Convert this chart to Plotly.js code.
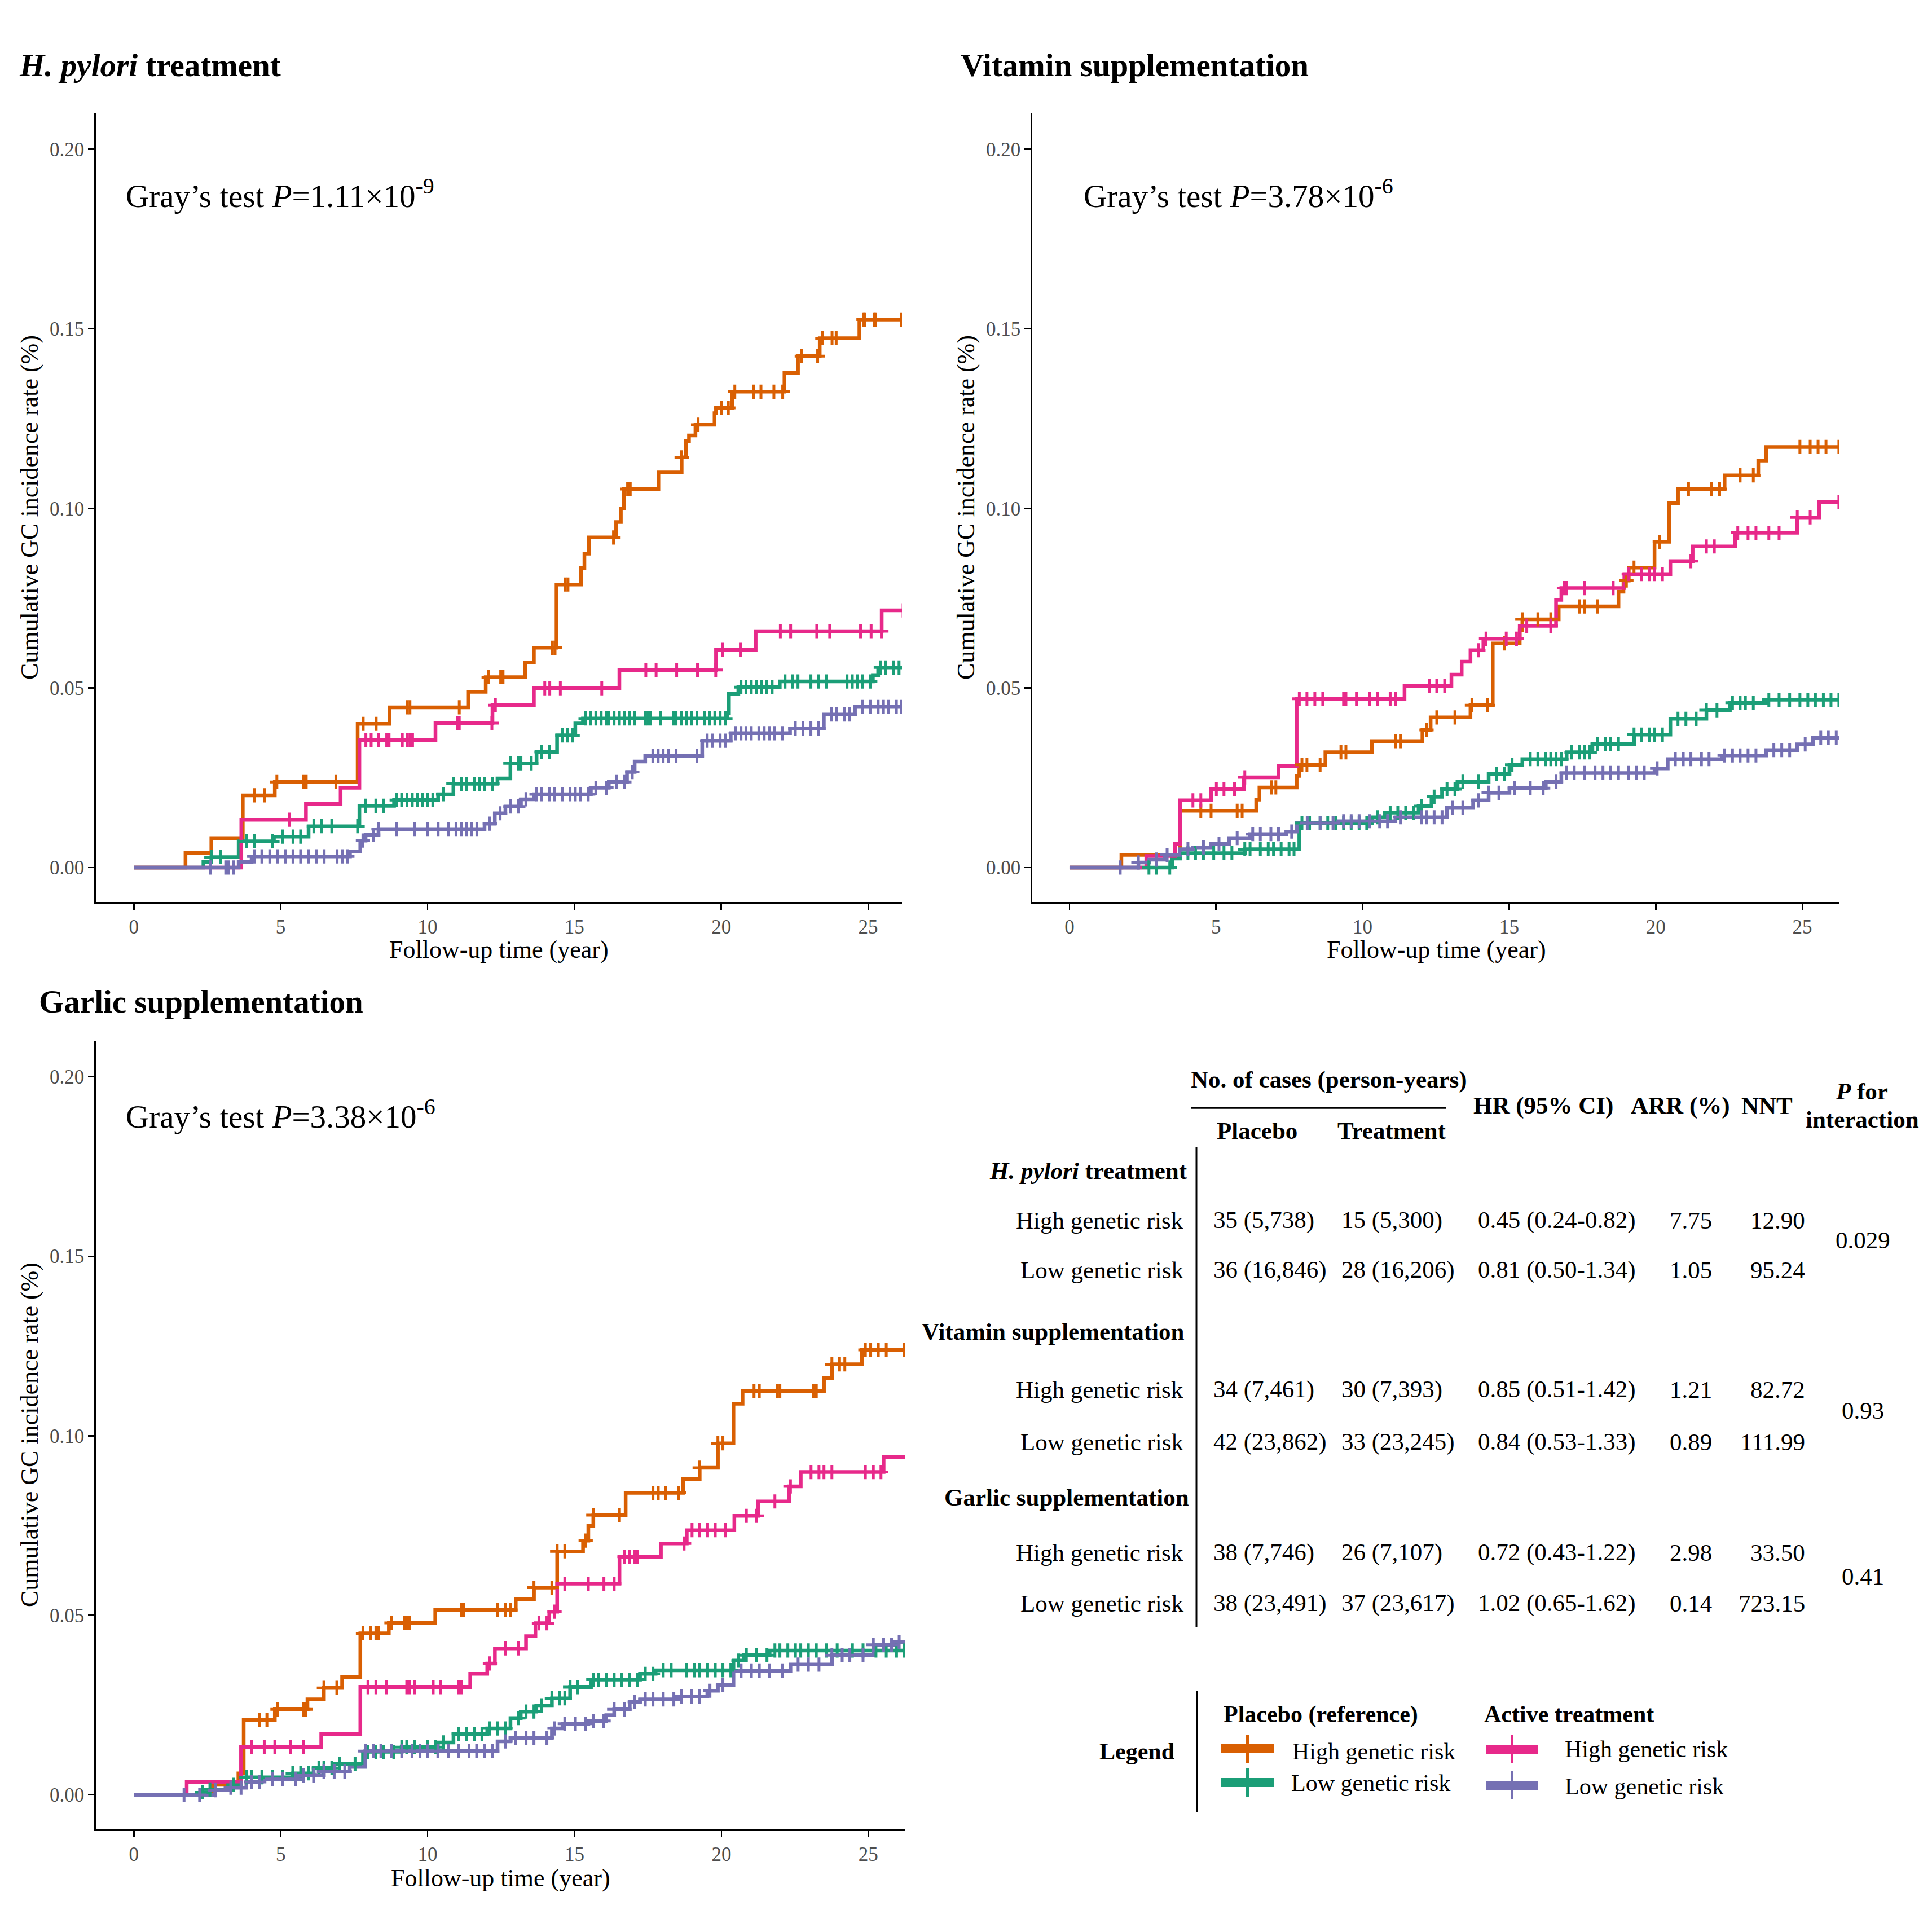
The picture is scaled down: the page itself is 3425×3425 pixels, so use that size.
<!DOCTYPE html>
<html><head><meta charset="utf-8">
<script src="https://cdn.plot.ly/plotly-3.0.1.min.js"></script>
<style>html,body{margin:0;padding:0;background:#fff}</style>
</head><body><div id="chart" style="width:3425px;height:3425px"></div>
<script>
// ---------------- DATA ----------------
const xTicks = [0, 5, 10, 15, 20, 25];
const yTicks = [0, 0.05, 0.10, 0.15, 0.20];
const yTickText = ['0.00', '0.05', '0.10', '0.15', '0.20'];

const panelTitles = ['<b><i>H. pylori</i> treatment</b>', '<b>Vitamin supplementation</b>', '<b>Garlic supplementation</b>'];
const grayTests = ['Gray\u2019s test <i>P</i>=1.11\u00d710<sup>-9</sup>', 'Gray\u2019s test <i>P</i>=3.78\u00d710<sup>-6</sup>', 'Gray\u2019s test <i>P</i>=3.38\u00d710<sup>-6</sup>'];
const seriesNames = ['Placebo, high genetic risk', 'Placebo, low genetic risk', 'Active, high genetic risk', 'Active, low genetic risk'];

// H. pylori treatment
const hpPlaHighT = [0, 1.76, 2.64, 3.71, 4.80, 7.62, 8.70, 11.38, 11.98, 13.32, 13.62, 14.39, 15.22, 15.34, 15.49, 16.42, 16.58, 16.68, 17.86, 18.65, 18.80, 18.90, 19.12, 19.77, 19.82, 20.37, 22.15, 22.61, 23.35, 24.70, 26.2];
const hpPlaHighV = [0, 0.0041, 0.0082, 0.0201, 0.0238, 0.0400, 0.0446, 0.0489, 0.0530, 0.0571, 0.0612, 0.0788, 0.0834, 0.0874, 0.0919, 0.0962, 0.1000, 0.1054, 0.1100, 0.1142, 0.1187, 0.1203, 0.1233, 0.1265, 0.1280, 0.1325, 0.1378, 0.1424, 0.1474, 0.1526, 0.1526];
const hpPlaHighC = [4.11, 4.46, 4.87, 5.78, 5.87, 6.88, 7.81, 8.25, 9.31, 9.40, 11.08, 12.08, 12.49, 12.57, 14.25, 14.34, 14.69, 14.78, 16.33, 16.81, 16.90, 18.65, 19.21, 20.00, 20.24, 20.46, 21.10, 21.35, 21.79, 22.09, 22.74, 23.28, 23.44, 23.77, 23.91, 24.84, 24.88, 25.21, 25.25, 26.14];
const hpPlaLowT = [0, 2.37, 2.64, 3.57, 4.77, 5.95, 7.68, 8.86, 10.36, 10.88, 12.38, 12.82, 13.71, 14.41, 15.03, 15.29, 20.20, 20.26, 20.58, 21.99, 25.16, 25.34, 26.2];
const hpPlaLowV = [0, 0.0015, 0.0029, 0.0073, 0.0086, 0.0115, 0.0172, 0.0188, 0.0204, 0.0233, 0.0248, 0.0290, 0.0322, 0.0368, 0.0401, 0.0415, 0.0430, 0.0484, 0.0502, 0.0518, 0.0536, 0.0557, 0.0557];
const hpPlaLowC = [2.64, 2.95, 3.83, 4.10, 4.72, 5.07, 5.42, 5.68, 6.13, 6.39, 6.74, 7.62, 7.89, 8.24, 8.51, 8.95, 9.12, 9.30, 9.48, 9.65, 9.83, 10.0, 10.18, 10.53, 10.88, 11.15, 11.33, 11.59, 11.77, 11.94, 12.21, 12.82, 13.09, 13.18, 13.53, 13.88, 14.14, 14.59, 14.76, 14.94, 15.38, 15.56, 15.73, 15.91, 16.09, 16.17, 16.35, 16.53, 16.70, 16.88, 17.05, 17.41, 17.50, 17.58, 17.94, 18.38, 18.46, 18.64, 18.82, 18.99, 19.17, 19.43, 19.61, 19.78, 19.96, 20.14, 20.67, 20.84, 21.02, 21.20, 21.37, 21.55, 21.73, 22.17, 22.43, 22.61, 23.05, 23.31, 23.58, 24.28, 24.46, 24.63, 24.81, 25.07, 25.43, 25.60, 25.87, 26.05];
const hpActHighT = [0, 3.66, 5.86, 7.04, 7.68, 10.27, 12.21, 13.62, 16.53, 19.82, 21.17, 25.46, 26.2];
const hpActHighV = [0, 0.0133, 0.0177, 0.0222, 0.0355, 0.0402, 0.0452, 0.0499, 0.0550, 0.0606, 0.0658, 0.0716, 0.0716];
const hpActHighC = [5.29, 7.90, 8.08, 8.34, 8.61, 8.69, 9.14, 9.31, 9.40, 9.49, 11.02, 11.08, 12.19, 12.31, 13.99, 14.16, 14.52, 15.93, 17.43, 17.78, 18.48, 19.19, 19.81, 20.04, 20.65, 22.01, 22.36, 23.25, 23.69, 24.74, 25.10, 25.45, 26.19];
const hpActLowT = [0, 3.57, 4.01, 7.36, 7.71, 7.89, 8.33, 11.94, 12.29, 12.65, 13.18, 13.62, 15.56, 16.17, 16.79, 17.05, 17.41, 19.35, 20.32, 22.34, 23.49, 24.55, 26.2];
const hpActLowV = [0, 0.0015, 0.0031, 0.0044, 0.0075, 0.0091, 0.0107, 0.0122, 0.0151, 0.0170, 0.0190, 0.0204, 0.0222, 0.0238, 0.0266, 0.0295, 0.0311, 0.0353, 0.0374, 0.0387, 0.0426, 0.0447, 0.0447];
const hpActLowC = [2.60, 3.13, 3.22, 3.39, 4.10, 4.36, 4.63, 4.89, 5.16, 5.42, 5.68, 5.95, 6.21, 6.48, 6.92, 7.10, 7.27, 7.80, 8.15, 8.33, 8.95, 9.56, 10.0, 10.36, 10.71, 10.97, 11.15, 11.33, 11.50, 11.68, 12.12, 12.47, 12.82, 13.09, 13.35, 13.71, 13.88, 14.15, 14.32, 14.59, 14.85, 15.03, 15.21, 15.47, 15.73, 16.09, 16.44, 16.70, 16.97, 17.67, 17.85, 18.02, 18.20, 18.46, 19.17, 19.52, 19.70, 19.96, 20.14, 20.49, 20.67, 20.84, 21.02, 21.28, 21.46, 21.64, 21.81, 22.08, 22.52, 22.78, 23.05, 23.31, 23.75, 23.93, 24.19, 24.37, 24.81, 25.07, 25.34, 25.52, 25.69, 25.96, 26.13];

// Vitamin supplementation
const vitPlaHighT = [0, 1.77, 3.77, 6.37, 6.48, 7.75, 7.84, 8.73, 10.32, 12.04, 12.32, 13.68, 14.44, 15.36, 15.45, 16.69, 18.73, 18.90, 19.08, 19.96, 20.46, 20.76, 22.35, 23.50, 23.77, 26.25];
const vitPlaHighV = [0, 0.0035, 0.0158, 0.0189, 0.0223, 0.0255, 0.0286, 0.0321, 0.0352, 0.0383, 0.0418, 0.0452, 0.0624, 0.0660, 0.0691, 0.0727, 0.0768, 0.0799, 0.0835, 0.0907, 0.1015, 0.1054, 0.1092, 0.1133, 0.1171, 0.1171];
const vitPlaHighC = [4.48, 4.83, 5.72, 5.89, 6.90, 7.04, 7.93, 8.10, 8.55, 9.26, 9.43, 11.12, 11.29, 12.18, 12.53, 13.15, 13.73, 14.27, 14.83, 15.45, 15.98, 16.42, 17.40, 17.58, 18.02, 19.00, 19.26, 20.14, 21.12, 21.91, 22.18, 22.88, 23.33, 24.92, 25.27, 25.54, 25.81, 26.25];
const vitPlaLowT = [0, 3.50, 3.77, 5.98, 7.84, 10.32, 10.76, 11.91, 12.35, 12.71, 13.24, 14.30, 15.01, 15.45, 16.96, 17.84, 19.26, 20.50, 21.73, 22.53, 23.77, 26.25];
const vitPlaLowV = [0, 0.0025, 0.0040, 0.0051, 0.0124, 0.0140, 0.0153, 0.0171, 0.0197, 0.0218, 0.0239, 0.0260, 0.0286, 0.0302, 0.0321, 0.0344, 0.0370, 0.0414, 0.0438, 0.0459, 0.0467, 0.0467];
const vitPlaLowC = [2.71, 2.97, 3.42, 4.04, 4.30, 4.57, 4.92, 5.27, 5.54, 5.98, 6.16, 6.51, 6.78, 6.96, 7.22, 7.49, 7.66, 7.93, 8.19, 8.55, 8.81, 9.08, 9.35, 9.61, 9.88, 10.14, 10.50, 10.94, 11.20, 11.47, 11.73, 12.00, 12.44, 12.88, 13.15, 13.42, 13.95, 14.57, 14.83, 15.10, 15.72, 15.98, 16.25, 16.42, 16.60, 16.78, 17.13, 17.40, 17.58, 17.75, 18.02, 18.28, 18.46, 18.73, 19.26, 19.52, 19.79, 19.96, 20.23, 20.76, 21.03, 21.38, 21.73, 22.09, 22.62, 22.88, 23.06, 23.33, 23.86, 24.21, 24.57, 24.92, 25.19, 25.45, 25.72, 25.98, 26.25];
const vitActHighT = [0, 2.62, 3.60, 3.77, 4.83, 5.95, 7.13, 7.75, 11.43, 13.03, 13.38, 13.68, 14.12, 15.36, 16.60, 16.78, 18.93, 20.50, 21.26, 22.71, 24.83, 25.58, 26.25];
const vitActHighV = [0, 0.0032, 0.0066, 0.0187, 0.0218, 0.0251, 0.0282, 0.0470, 0.0506, 0.0537, 0.0573, 0.0605, 0.0637, 0.0673, 0.0745, 0.0778, 0.0817, 0.0853, 0.0894, 0.0932, 0.0975, 0.1018, 0.1018];
const vitActHighC = [4.21, 4.48, 5.01, 5.27, 5.63, 5.98, 7.84, 8.10, 8.37, 8.64, 9.35, 9.43, 9.79, 10.23, 10.50, 10.94, 11.12, 12.27, 12.53, 12.80, 13.95, 14.21, 14.90, 15.25, 15.60, 16.42, 16.87, 16.96, 17.58, 18.55, 19.08, 19.52, 19.79, 19.96, 20.23, 21.20, 21.73, 22.00, 22.80, 23.15, 23.42, 23.86, 24.21, 24.83, 25.27, 26.25];
const vitActLowT = [0, 2.35, 2.71, 3.24, 3.77, 4.21, 4.83, 5.45, 6.16, 7.40, 7.75, 9.17, 11.12, 12.88, 13.77, 14.30, 15.01, 16.25, 16.78, 19.96, 20.41, 22.27, 23.77, 24.83, 25.36, 26.25];
const vitActLowV = [0, 0.0014, 0.0022, 0.0035, 0.0051, 0.0056, 0.0066, 0.0082, 0.0093, 0.0100, 0.0124, 0.0129, 0.0140, 0.0166, 0.0187, 0.0208, 0.0221, 0.0239, 0.0263, 0.0276, 0.0302, 0.0312, 0.0327, 0.0343, 0.0361, 0.0361];
const vitActLowC = [1.73, 2.35, 2.97, 3.33, 4.04, 4.57, 5.10, 5.72, 6.25, 6.51, 6.87, 7.13, 7.58, 8.11, 8.55, 8.99, 9.35, 9.61, 9.88, 10.23, 10.58, 10.85, 11.29, 12.00, 12.18, 12.44, 12.71, 13.06, 13.42, 13.95, 14.30, 14.65, 15.19, 15.72, 16.16, 16.60, 16.96, 17.22, 17.58, 17.93, 18.20, 18.46, 18.73, 19.08, 19.35, 19.61, 20.05, 20.67, 20.94, 21.20, 21.56, 21.82, 22.35, 22.62, 22.88, 23.15, 23.42, 24.03, 24.30, 24.57, 25.10, 25.63, 25.89, 26.16];

// Garlic supplementation
const garPlaHighT = [0, 2.68, 3.56, 3.74, 4.80, 5.91, 6.47, 7.09, 7.71, 8.68, 10.26, 13.00, 13.62, 14.41, 15.29, 15.47, 15.64, 16.74, 18.70, 19.26, 19.88, 20.41, 20.72, 23.49, 23.76, 24.78, 26.25];
const garPlaHighV = [0, 0.0028, 0.0060, 0.0209, 0.0238, 0.0266, 0.0298, 0.0328, 0.0450, 0.0479, 0.0515, 0.0545, 0.0577, 0.0678, 0.0708, 0.0749, 0.0779, 0.0841, 0.0879, 0.0911, 0.0979, 0.1089, 0.1124, 0.1161, 0.1199, 0.1239, 0.1239];
const garPlaHighC = [4.27, 4.53, 4.89, 5.77, 5.85, 6.47, 6.91, 7.80, 8.06, 8.24, 8.32, 8.77, 9.21, 9.29, 9.38, 11.15, 11.23, 12.38, 12.65, 12.82, 13.62, 14.23, 14.41, 14.67, 15.38, 15.64, 16.53, 17.67, 17.85, 18.11, 18.55, 19.26, 19.88, 20.05, 21.11, 21.29, 21.90, 21.99, 23.14, 23.23, 23.76, 24.02, 24.20, 24.90, 25.08, 25.34, 25.61, 26.23];
const garPlaLowT = [0, 2.33, 2.59, 3.30, 3.65, 5.41, 6.12, 6.83, 7.80, 9.12, 10.35, 10.88, 12.03, 12.82, 13.17, 13.70, 14.23, 14.85, 15.56, 17.23, 17.76, 20.41, 20.76, 21.64, 26.25];
const garPlaLowV = [0, 0.0007, 0.0015, 0.0028, 0.0049, 0.0060, 0.0075, 0.0086, 0.0120, 0.0133, 0.0146, 0.0170, 0.0185, 0.0214, 0.0232, 0.0248, 0.0269, 0.0300, 0.0321, 0.0337, 0.0347, 0.0374, 0.0389, 0.0402, 0.0402];
const garPlaLowC = [2.33, 2.59, 3.39, 3.83, 4.00, 4.36, 4.71, 5.06, 5.41, 5.68, 5.94, 6.30, 6.47, 6.74, 7.00, 7.53, 7.97, 8.24, 8.50, 8.85, 9.12, 9.29, 9.56, 10.00, 10.26, 10.53, 11.06, 11.32, 11.59, 11.85, 12.12, 12.38, 12.65, 13.09, 13.35, 13.62, 13.88, 14.23, 14.50, 14.67, 14.85, 15.11, 15.64, 15.82, 16.08, 16.35, 16.61, 16.88, 17.14, 17.41, 17.67, 18.02, 18.29, 18.82, 19.08, 19.26, 19.53, 19.79, 20.05, 20.32, 20.58, 20.85, 21.20, 21.55, 21.82, 21.99, 22.26, 22.52, 22.70, 22.96, 23.23, 23.58, 23.94, 24.46, 24.82, 25.26, 25.61, 25.96, 26.22];
const garActHighT = [0, 1.80, 3.65, 6.38, 7.71, 11.45, 12.03, 12.29, 13.35, 13.67, 14.14, 14.41, 16.53, 17.94, 18.82, 20.44, 21.25, 22.31, 22.70, 25.52, 26.25];
const garActHighV = [0, 0.0036, 0.0133, 0.0170, 0.0300, 0.0337, 0.0366, 0.0408, 0.0442, 0.0478, 0.0510, 0.0588, 0.0663, 0.0700, 0.0737, 0.0777, 0.0817, 0.0859, 0.0899, 0.0941, 0.0941];
const garActHighC = [4.00, 4.44, 4.80, 5.33, 5.77, 7.97, 8.24, 8.59, 9.29, 9.38, 9.56, 10.19, 10.45, 11.06, 11.15, 12.12, 12.65, 13.09, 13.79, 14.06, 14.32, 14.67, 15.47, 16.00, 16.35, 16.70, 16.88, 17.05, 17.14, 18.73, 19.00, 19.26, 19.53, 19.79, 20.14, 20.85, 21.20, 21.82, 22.35, 23.05, 23.32, 23.49, 23.76, 24.90, 25.17, 25.43];
const garActLowT = [0, 2.77, 3.30, 3.83, 4.36, 5.77, 6.47, 7.35, 7.88, 12.38, 12.82, 14.23, 14.59, 15.47, 16.08, 16.35, 16.88, 17.23, 18.47, 19.52, 19.88, 20.41, 22.35, 23.76, 25.17, 25.87, 26.25];
const garActLowV = [0, 0.0013, 0.0020, 0.0036, 0.0044, 0.0054, 0.0065, 0.0078, 0.0122, 0.0149, 0.0159, 0.0185, 0.0198, 0.0206, 0.0222, 0.0238, 0.0259, 0.0266, 0.0274, 0.0290, 0.0306, 0.0345, 0.0363, 0.0389, 0.0418, 0.0426, 0.0426];
const garActLowC = [1.71, 2.24, 2.77, 3.30, 3.65, 4.00, 4.27, 4.71, 5.06, 5.50, 5.77, 6.12, 6.47, 6.82, 7.18, 7.88, 8.15, 8.41, 8.77, 9.12, 9.47, 9.74, 10.00, 10.35, 10.71, 11.06, 11.41, 11.67, 11.94, 12.20, 12.65, 13.00, 13.35, 13.62, 14.06, 14.32, 14.67, 15.03, 15.38, 15.64, 15.99, 16.35, 16.70, 17.05, 17.41, 17.67, 18.02, 18.38, 18.64, 18.99, 19.26, 19.61, 20.05, 20.67, 21.02, 21.29, 21.64, 22.08, 22.61, 22.96, 23.32, 23.76, 24.11, 24.37, 24.82, 25.17, 25.52, 25.79, 26.05];

// Table
const tableGroups = ['<b><i>H. pylori</i> treatment</b>', '<b>Vitamin supplementation</b>', '<b>Garlic supplementation</b>'];
const riskLabels = ['High genetic risk', 'Low genetic risk'];
const placeboCases = [['35 (5,738)', '36 (16,846)'], ['34 (7,461)', '42 (23,862)'], ['38 (7,746)', '38 (23,491)']];
const treatmentCases = [['15 (5,300)', '28 (16,206)'], ['30 (7,393)', '33 (23,245)'], ['26 (7,107)', '37 (23,617)']];
const hrCI = [['0.45 (0.24-0.82)', '0.81 (0.50-1.34)'], ['0.85 (0.51-1.42)', '0.84 (0.53-1.33)'], ['0.72 (0.43-1.22)', '1.02 (0.65-1.62)']];
const arrPct = [['7.75', '1.05'], ['1.21', '0.89'], ['2.98', '0.14']];
const nnt = [['12.90', '95.24'], ['82.72', '111.99'], ['33.50', '723.15']];
const pInteraction = ['0.029', '0.93', '0.41'];
const legendGroups = ['<b>Placebo (reference)</b>', '<b>Active treatment</b>'];

// ---------------- BUILD ----------------
const W = 3425;
const FONT = 'Liberation Serif, Times New Roman, serif';
const COL = ['#D95F02', '#1B9E77', '#E7298A', '#7570B3'];
const px = X => X / W;
const py = Y => 1 - Y / W;

function stepAt(T, V, t) {
  let v = V[0];
  for (let i = 0; i < T.length; i++) { if (T[i] <= t) v = V[i]; else break; }
  return v;
}

const panels = [
  { x: 'x', y: 'y', data: [[hpPlaHighT, hpPlaHighV, hpPlaHighC], [hpPlaLowT, hpPlaLowV, hpPlaLowC], [hpActHighT, hpActHighV, hpActHighC], [hpActLowT, hpActLowV, hpActLowC]] },
  { x: 'x2', y: 'y2', data: [[vitPlaHighT, vitPlaHighV, vitPlaHighC], [vitPlaLowT, vitPlaLowV, vitPlaLowC], [vitActHighT, vitActHighV, vitActHighC], [vitActLowT, vitActLowV, vitActLowC]] },
  { x: 'x3', y: 'y3', data: [[garPlaHighT, garPlaHighV, garPlaHighC], [garPlaLowT, garPlaLowV, garPlaLowC], [garActHighT, garActHighV, garActHighC], [garActLowT, garActLowV, garActLowC]] }
];

const traces = [];
panels.forEach(p => {
  p.data.forEach((d, i) => {
    traces.push({ x: d[0], y: d[1], xaxis: p.x, yaxis: p.y, type: 'scatter', mode: 'lines', name: seriesNames[i],
      line: { shape: 'hv', width: 6.5, color: COL[i] }, showlegend: false, hoverinfo: 'skip' });
  });
  p.data.forEach((d, i) => {
    traces.push({ x: d[2], y: d[2].map(t => stepAt(d[0], d[1], t)), xaxis: p.x, yaxis: p.y, type: 'scatter', mode: 'markers', name: seriesNames[i],
      marker: { symbol: 'cross-thin', size: 18, color: COL[i], line: { width: 5, color: COL[i] } }, showlegend: false, hoverinfo: 'skip' });
  });
});

function xax(dom, range, anchor) {
  return { domain: dom, range: range, anchor: anchor, tickmode: 'array', tickvals: xTicks, ticktext: xTicks.map(String),
    showline: true, linecolor: '#000', linewidth: 2.7, ticks: 'outside', ticklen: 11, tickwidth: 2.7, tickcolor: '#000',
    showgrid: false, zeroline: false, tickfont: { family: FONT, size: 35, color: '#4D4D4D' }, fixedrange: true };
}
function yax(dom, anchor) {
  return { domain: dom, range: [-0.0096, 0.21], anchor: anchor, tickmode: 'array', tickvals: yTicks, ticktext: yTickText,
    showline: true, linecolor: '#000', linewidth: 2.7, ticks: 'outside', ticklen: 11, tickwidth: 2.7, tickcolor: '#000',
    showgrid: false, zeroline: false, tickfont: { family: FONT, size: 35, color: '#4D4D4D' }, fixedrange: true };
}

const annotations = [];
function T(text, X, baseY, size, xanchor, extra) {
  const a = { text: text, x: px(X), y: py(baseY - 0.3 * size), xref: 'paper', yref: 'paper', xanchor: xanchor, yanchor: 'middle',
    showarrow: false, font: { family: FONT, size: size, color: '#000' } };
  return Object.assign(a, extra || {});
}

// panel titles & Gray's tests
const titlePos = [[32, 133], [1701, 133], [67, 1793]];
const grayPos = [[221, 360], [1919, 360], [221, 1992]];
for (let k = 0; k < 3; k++) {
  annotations.push(T(panelTitles[k], titlePos[k][0], titlePos[k][1], 57, 'left'));
  annotations.push(T(grayTests[k], grayPos[k][0], grayPos[k][1], 57, 'left'));
}
// axis titles
const xTitlePos = [[884, 1697], [2546, 1697], [887, 3343]];
const yTitlePos = [[52, 900], [1712, 900], [52, 2544]];
for (let k = 0; k < 3; k++) {
  annotations.push(T('Follow-up time (year)', xTitlePos[k][0], xTitlePos[k][1], 44, 'center'));
  annotations.push({ text: 'Cumulative GC incidence rate (%)', x: px(yTitlePos[k][0]), y: py(yTitlePos[k][1]), xref: 'paper', yref: 'paper',
    xanchor: 'center', yanchor: 'middle', textangle: -90, showarrow: false, font: { family: FONT, size: 44, color: '#000' } });
}

// table header
const TS = 43;
annotations.push(T('<b>No. of cases (person-years)</b>', 2356, 1927, TS, 'center'));
annotations.push(T('<b>Placebo</b>', 2228, 2017, TS, 'center'));
annotations.push(T('<b>Treatment</b>', 2467, 2017, TS, 'center'));
annotations.push(T('<b>HR (95% CI)</b>', 2736, 1973, TS, 'center'));
annotations.push(T('<b>ARR (%)</b>', 2979, 1973, TS, 'center'));
annotations.push(T('<b>NNT</b>', 3132, 1973, TS, 'center'));
annotations.push(T('<b><i>P</i> for</b>', 3300, 1947, TS, 'center'));
annotations.push(T('<b>interaction</b>', 3301, 1997, TS, 'center'));

const groupBase = [2088, 2373, 2667];
const rowBase = [[2176, 2264], [2476, 2569], [2765, 2855]];
const groupRight = [2107, 2102, 2110];
const pBase = [2211, 2513, 2807];
for (let g = 0; g < 3; g++) {
  annotations.push(T(tableGroups[g], groupRight[g], groupBase[g], TS, 'right'));
  for (let r = 0; r < 2; r++) {
    const b = rowBase[g][r];
    annotations.push(T(riskLabels[r], 2100, b, TS, 'right'));
    annotations.push(T(placeboCases[g][r], 2149, b, TS, 'left'));
    annotations.push(T(treatmentCases[g][r], 2376, b, TS, 'left'));
    annotations.push(T(hrCI[g][r], 2618, b, TS, 'left'));
    annotations.push(T(arrPct[g][r], 2997, b, TS, 'center'));
    annotations.push(T(nnt[g][r], 3202, b, TS, 'right'));
  }
  annotations.push(T(pInteraction[g], 3302, pBase[g], TS, 'center'));
}

// legend block
const LS = 42;
annotations.push(T('<b>Legend</b>', 2015, 3118, LS, 'center'));
annotations.push(T(legendGroups[0], 2167, 3052, LS, 'left'));
annotations.push(T(legendGroups[1], 2629, 3052, LS, 'left'));
annotations.push(T(riskLabels[0], 2289, 3118, LS, 'left'));
annotations.push(T(riskLabels[1], 2287, 3174, LS, 'left'));
annotations.push(T(riskLabels[0], 2772, 3114, LS, 'left'));
annotations.push(T(riskLabels[1], 2772, 3180, LS, 'left'));

const shapes = [];
function ln(x0, y0, x1, y1, w, c) {
  shapes.push({ type: 'line', xref: 'paper', yref: 'paper', x0: px(x0), y0: py(y0), x1: px(x1), y1: py(y1), line: { width: w, color: c } });
}
// table rules
ln(2112, 1964, 2564, 1964, 3.5, '#000');
ln(2121, 2034, 2121, 2885, 3, '#000');
ln(2122, 2998, 2122, 3213, 3, '#000');
// legend keys
const keys = [[2165, 2258, 3100, 0], [2165, 2258, 3160, 1], [2634, 2727, 3101, 2], [2634, 2727, 3165, 3]];
keys.forEach(k => {
  const cx = (k[0] + k[1]) / 2;
  shapes.push({ type: 'rect', xref: 'paper', yref: 'paper', x0: px(k[0]), x1: px(k[1]), y0: py(k[2] + 8), y1: py(k[2] - 8), fillcolor: COL[k[3]], line: { width: 0 } });
  ln(cx, k[2] - 25, cx, k[2] + 25, 5, COL[k[3]]);
});

const layout = {
  width: W, height: W, margin: { l: 0, r: 0, t: 0, b: 0 }, paper_bgcolor: '#fff', plot_bgcolor: '#fff', showlegend: false,
  font: { family: FONT, color: '#000' },
  xaxis: xax([px(170), px(1599)], [-1.29, 26.15], 'y'),
  yaxis: yax([py(1599), py(201)], 'x'),
  xaxis2: xax([px(1830), px(3261)], [-1.27, 26.27], 'y2'),
  yaxis2: yax([py(1599), py(201)], 'x2'),
  xaxis3: xax([px(170), px(1605)], [-1.29, 26.26], 'y3'),
  yaxis3: yax([py(3243), py(1845)], 'x3'),
  annotations: annotations, shapes: shapes
};

Plotly.newPlot('chart', traces, layout, { staticPlot: true, displayModeBar: false });
</script></body></html>
